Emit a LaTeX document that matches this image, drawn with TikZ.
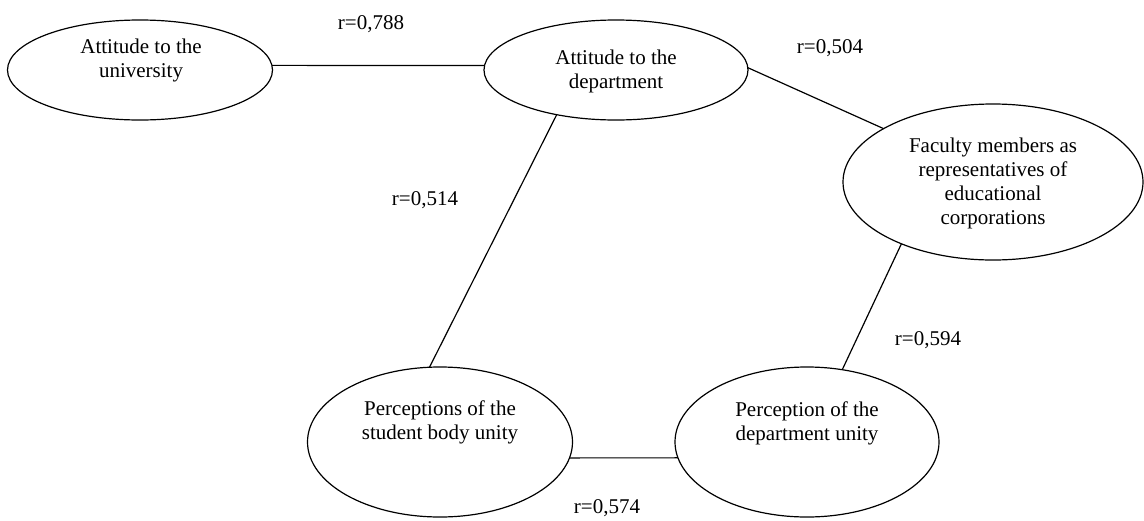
\documentclass[tikz,border=0pt]{standalone}
\usepackage{fontspec}
\setmainfont{Liberation Serif}
\usetikzlibrary{shapes,calc}
\tikzset{%
    factor/.style={%
        ellipse, draw, line width=1.2pt, inner sep=0pt, outer sep=0pt
    },
    factor_text/.style={%
        align=center, font=\fontsize{21}{24}\selectfont
    },
    corr/.style={%
        font=\fontsize{21}{24}\selectfont
    },
    link/.style={%
        line width=1.2pt
    },
}
\begin{document}
\begin{tikzpicture}[x=1pt, y=-1pt]
      \useasboundingbox (0,0) rectangle (1144,520);

      \node[factor, minimum width=265pt, minimum height=100pt] (univ) at (140,70) {};
      \node[factor, minimum width=264pt, minimum height=100pt] (dept) at (616,70) {};
      \node[factor, minimum width=300pt, minimum height=156pt] (fac) at (993,182) {};
      \node[factor, minimum width=265pt, minimum height=150pt] (stud) at (440,442) {};
      \node[factor, minimum width=264pt, minimum height=150pt] (unity) at (807,442) {};

      \node[factor_text] (univ_txt) at (141,60) {Attitude to the\\university};
      \node[factor_text] (dept_txt) at (616,71) {Attitude to the\\department};
      \node[factor_text] (fac_txt) at (993,183) {Faculty members as\\representatives of\\educational\\corporations};
      \node[factor_text] (stud_txt) at (440,422) {Perceptions of the\\student body unity};
      \node[factor_text] (unity_txt) at (807,423) {Perception of the\\department unity};

      \draw[link] (univ.2) -- (dept.178);
      \draw[link] (dept.1) -- (fac.154);
      \draw[link] (dept.217) -- (stud.98);
      \draw[link] (fac.214) -- (unity.64);
      \draw[link] (stud.-7) -- (unity.187);

      \node[corr] (r788) at (371,24) {r=0,788};
      \node[corr] (r504) at (830,48) {r=0,504};
      \node[corr] (r514) at (425,200) {r=0,514};
      \node[corr] (r594) at (928,340) {r=0,594};
      \node[corr] (r574) at (607,508) {r=0,574};
\end{tikzpicture}
\end{document}
